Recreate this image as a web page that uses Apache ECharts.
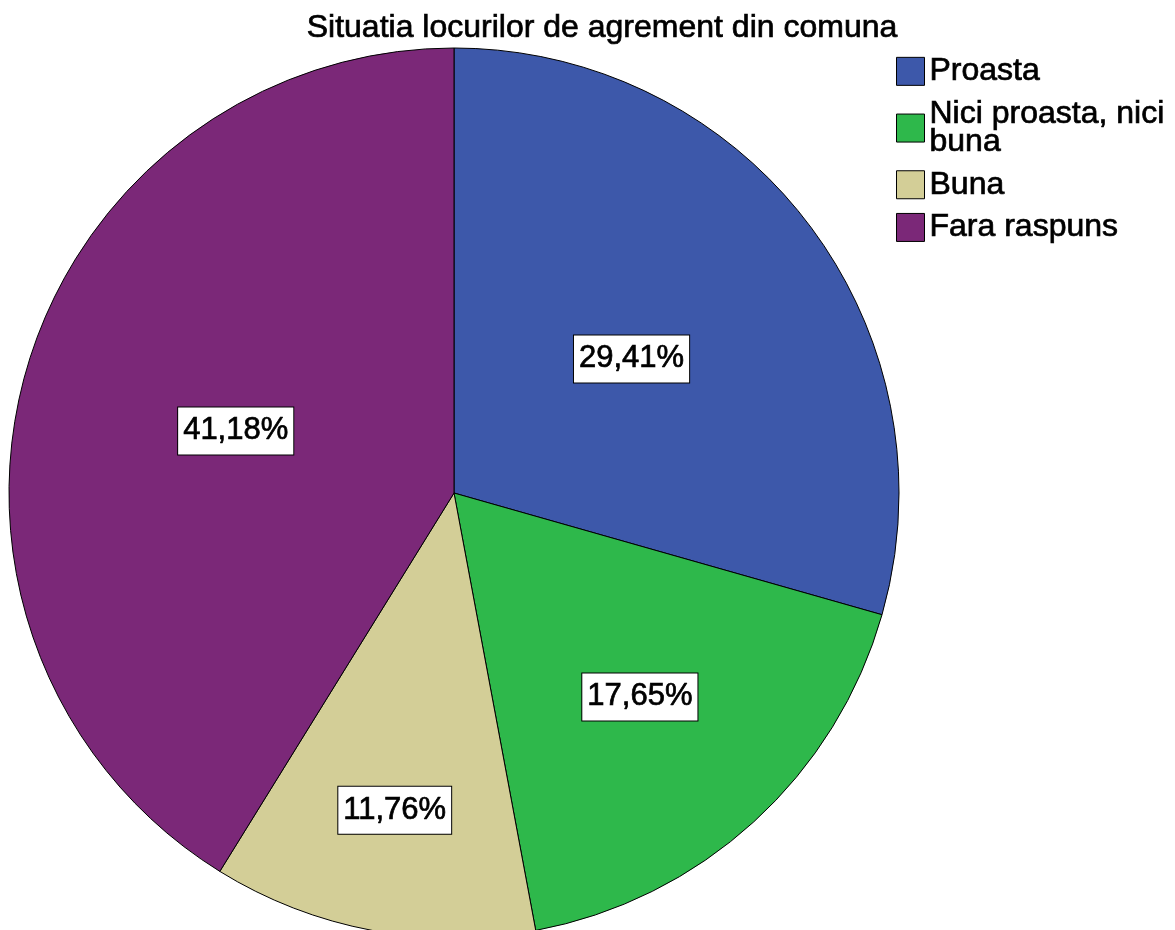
<!DOCTYPE html>
<html>
<head>
<meta charset="utf-8">
<script src="https://cdn.jsdelivr.net/npm/echarts@6/dist/echarts.min.js"></script>
<style>
  html, body { margin: 0; padding: 0; background: #ffffff; }
  #chart { width: 1175px; height: 930px; }
</style>
</head>
<body>
<div id="chart"></div>
<script>
const titleText = 'Situatia locurilor de agrement din comuna'
const categories = ['Proasta', 'Nici proasta, nici\nbuna', 'Buna', 'Fara raspuns']
const percents = [29.41, 17.65, 11.76, 41.18]
const colors = ['#3d58aa', '#2eb84b', '#d3ce97', '#7b2878']
// where each label sits, as a share of the radius (SPSS pushes small slices outward)
const labelRadius = [0.5, 0.62, 0.725, 0.51]

const pieCenter = [454, 493]
const pieRadius = 445

const chart = echarts.init(document.getElementById('chart'))

const fmtPct = (v) => v.toFixed(2).replace('.', ',') + '%'

// a thin outline in the text colour makes Liberation look as heavy as the SPSS Arial
const heavyText = {
  fontFamily: 'Liberation Sans',
  color: '#000000',
  textBorderColor: '#000000',
  textBorderWidth: 0.7,
}

chart.setOption({
  animation: false,
  title: {
    text: titleText,
    left: 597,
    textAlign: 'center',
    top: 7,
    textStyle: {
      ...heavyText,
      fontSize: 32,
      fontWeight: 'normal',
    },
  },
  legend: {
    orient: 'vertical',
    left: 896,
    top: 55,
    itemWidth: 28,
    itemHeight: 28,
    itemGap: 10,
    icon: 'rect',
    padding: 0,
    selectedMode: false,
    itemStyle: {
      borderColor: '#000000',
      borderWidth: 1,
    },
    textStyle: {
      ...heavyText,
      fontSize: 32,
      lineHeight: 28,
      padding: [0, 0, 0, 0],
    },
    data: categories,
  },
  series: [
    {
      type: 'pie',
      center: pieCenter,
      radius: pieRadius,
      startAngle: 90,
      clockwise: true,
      silent: true,
      itemStyle: {
        borderColor: '#000000',
        borderWidth: 1,
      },
      label: {
        ...heavyText,
        position: 'inside',
        formatter: (p) => fmtPct(p.value),
        fontSize: 31,
        lineHeight: 37,
        backgroundColor: '#ffffff',
        borderColor: '#000000',
        borderWidth: 1,
        padding: [6, 5, 4, 5],
      },
      labelLine: { show: false },
      // move the inside label along its own direction to the wanted radius
      labelLayout(params) {
        const r = params.labelRect
        const cx = r.x + r.width / 2 - pieCenter[0]
        const cy = r.y + r.height / 2 - pieCenter[1]
        const d = Math.sqrt(cx * cx + cy * cy) || 1
        const k = (labelRadius[params.dataIndex] * pieRadius) / d - 1
        return { dx: cx * k, dy: cy * k }
      },
      data: categories.map((name, i) => ({
        name,
        value: percents[i],
        itemStyle: { color: colors[i] },
      })),
    },
  ],
})
</script>
</body>
</html>
